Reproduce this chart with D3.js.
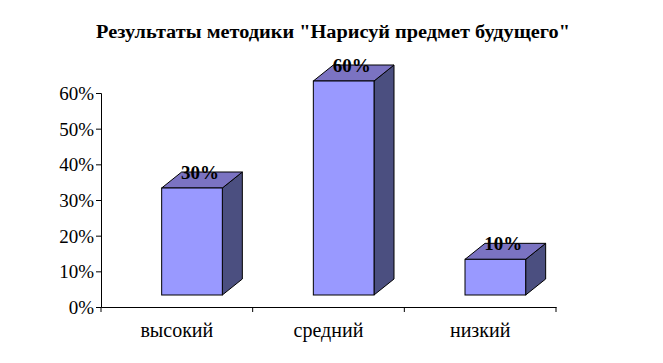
<!DOCTYPE html>
<html>
<head>
<meta charset="utf-8">
<script src="https://cdn.jsdelivr.net/npm/d3@7"></script>
<style>
  body { margin: 0; background: #fff; }
  svg { display: block; }
</style>
</head>
<body>
<div id="chart"></div>
<script>
(function () {
    const categories = ['высокий', 'средний', 'низкий'];
    const values = [0.30, 0.60, 0.10];
    const valueLabels = ['30%', '60%', '10%'];
    const yTicks = [0, 0.1, 0.2, 0.3, 0.4, 0.5, 0.6];
    const title = 'Результаты методики "Нарисуй предмет будущего"';

    const width = 663;
    const height = 363;
    const serif = 'Liberation Serif';

    const svg = d3.select('#chart').append('svg')
        .attr('width', width)
        .attr('height', height)
        .style('font-family', serif);

    const xScale = d3.scaleBand().domain(categories).range([101, 556]).padding(0);
    const yScale = d3.scaleLinear().domain([0, 0.6]).range([307, 93]);

    // 3D look
    const depthX = 20, depthY = 16, lift = 12;
    const barOffset = xScale.bandwidth() * 0.4;
    const barWidth = xScale.bandwidth() * 0.4;

    // Title
    svg.append('text')
        .attr('x', 333)
        .attr('y', 38)
        .attr('text-anchor', 'middle')
        .style('font-family', serif)
        .style('font-weight', 'bold')
        .style('font-size', '18px')
        .attr('textLength', 474)
        .attr('lengthAdjust', 'spacingAndGlyphs')
        .text(title);

    // Axes
    const yAxis = d3.axisLeft(yScale)
        .tickValues(yTicks)
        .tickFormat(d3.format('.0%'))
        .tickSize(5);
    const yG = svg.append('g').attr('transform', 'translate(101,0)').call(yAxis);

    const xAxis = d3.axisBottom(xScale).tickSize(0).tickFormat('');
    const xG = svg.append('g').attr('transform', 'translate(0,307)').call(xAxis);

    // category boundary ticks
    const bounds = categories.map(c => xScale(c)).concat([xScale.range()[1]]);
    xG.selectAll('line.bound').data(bounds).enter().append('line')
        .attr('class', 'bound')
        .attr('x1', d => d).attr('x2', d => d)
        .attr('y1', 0).attr('y2', 5)
        .attr('stroke', '#000');

    [yG, xG].forEach(g => {
        g.attr('font-family', serif).attr('font-size', null);
        g.select('.domain').attr('stroke', '#000').attr('stroke-width', 1);
        g.selectAll('.tick line').attr('stroke', '#000');
    });
    yG.selectAll('.tick text')
        .style('font-family', serif)
        .style('font-size', '19px')
        .attr('fill', '#000')
        .attr('x', -7)
        .attr('dy', '0.35em');

    // Category labels
    svg.append('g').selectAll('text')
        .data(categories).enter().append('text')
        .attr('x', d => xScale(d) + xScale.bandwidth() / 2)
        .attr('y', 337)
        .attr('text-anchor', 'middle')
        .style('font-family', serif)
        .style('font-size', '20px')
        .text(d => d);

    // Bars
    const bars = svg.append('g').selectAll('g.bar')
        .data(categories.map((c, i) => ({ cat: c, value: values[i], label: valueLabels[i] })))
        .enter().append('g').attr('class', 'bar');

    const fx = d => xScale(d.cat) + barOffset;
    const barTop = d => yScale(d.value) - lift;
    const barBottom = yScale(0) - lift;

    // side face
    bars.append('path')
        .attr('d', d => {
            const x = fx(d) + barWidth;
            return `M${x},${barTop(d)}L${x + depthX},${barTop(d) - depthY}L${x + depthX},${barBottom - depthY}L${x},${barBottom}Z`;
        })
        .attr('fill', '#4b4f80')
        .attr('stroke', '#000')
        .attr('stroke-width', 1);

    // top face
    bars.append('path')
        .attr('d', d => {
            const x = fx(d), y = barTop(d);
            return `M${x},${y}L${x + depthX},${y - depthY}L${x + barWidth + depthX},${y - depthY}L${x + barWidth},${y}Z`;
        })
        .attr('fill', '#7b73c2')
        .attr('stroke', '#000')
        .attr('stroke-width', 1);

    // front face
    bars.append('rect')
        .attr('x', fx)
        .attr('y', barTop)
        .attr('width', barWidth)
        .attr('height', d => barBottom - barTop(d))
        .attr('fill', '#9999ff')
        .attr('stroke', '#000')
        .attr('stroke-width', 1);

    // value labels
    bars.append('text')
        .attr('x', d => fx(d) + barWidth / 2 + 8)
        .attr('y', d => barTop(d) - 9)
        .attr('text-anchor', 'middle')
        .style('font-family', serif)
        .style('font-weight', 'bold')
        .style('font-size', '19px')
        .text(d => d.label);
})();
</script>
</body>
</html>
